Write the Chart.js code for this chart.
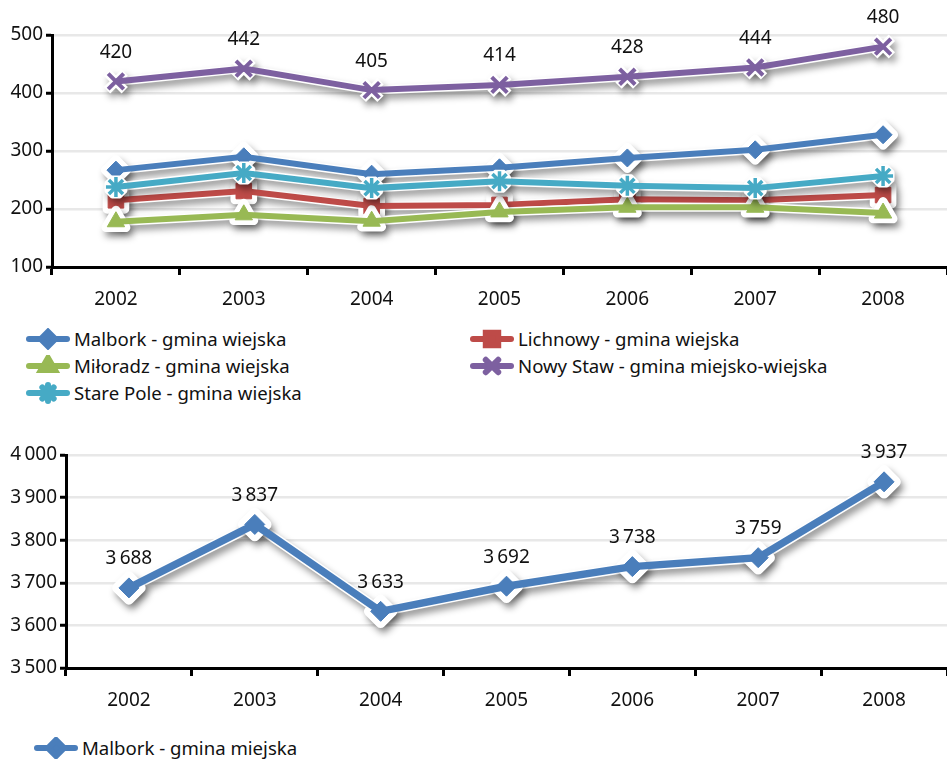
<!DOCTYPE html>
<html>
<head>
<meta charset="utf-8">
<script src="https://cdn.jsdelivr.net/npm/chart.js@4.4.1/dist/chart.umd.min.js"></script>
<style>
  body { margin: 0; background: #fff; font-family: 'Noto Sans', sans-serif; }
  #wrap { position: relative; width: 947px; height: 760px; overflow: hidden; }
  #wrap > canvas { position: absolute; left: 0; }
  .item { position: absolute; display: flex; align-items: center; white-space: nowrap;
          height: 27px; font-size: 18.6px; color: #111; }
  .item canvas { margin-right: 4px; }
</style>
</head>
<body>
<div id="wrap">
  <canvas id="top" width="947" height="315" style="top:0"></canvas>
  <div id="legendTop"></div>
  <canvas id="bottom" width="947" height="290" style="top:430px"></canvas>
  <div id="legendBottom"></div>
</div>
<script>
// categories
const years = ['2002', '2003', '2004', '2005', '2006', '2007', '2008'];

// top chart series
const malborkWiejska = [267, 290, 260, 271, 288, 302, 328];
const lichnowy       = [215, 231, 205, 207, 217, 215, 224];
const miloradz       = [178, 190, 179, 195, 203, 203, 193];
const nowyStaw       = [420, 442, 405, 414, 428, 444, 480];
const starePole      = [238, 262, 236, 248, 240, 236, 257];

// bottom chart series
const malborkMiejska = [3688, 3837, 3633, 3692, 3738, 3759, 3937];

// axis ranges
const topRange = [100, 500];
const bottomRange = [3500, 4000];

const FONT = "'Noto Sans', sans-serif";
const fmt = v => String(v).replace(/\B(?=(\d{3})+(?!\d))/g, '\u2009');

// white outline + drop shadow under each series, like the office chart style
const outlinePlugin = {
  id: 'outline',
  beforeDatasetDraw(chart, args) {
    const ds = chart.data.datasets[args.index];
    const pts = args.meta.data;
    const ctx = chart.ctx;
    ctx.save();
    ctx.shadowColor = 'rgba(0,0,0,0.4)';
    ctx.shadowBlur = 7;
    ctx.shadowOffsetX = 3;
    ctx.shadowOffsetY = 5;
    ctx.strokeStyle = '#fff';
    ctx.fillStyle = '#fff';
    ctx.lineJoin = 'round';
    ctx.lineWidth = ds.borderWidth + 3;
    ctx.beginPath();
    pts.forEach((p, i) => i ? ctx.lineTo(p.x, p.y) : ctx.moveTo(p.x, p.y));
    ctx.stroke();
    pts.forEach(p => {
      Chart.helpers.drawPoint(ctx, {
        pointStyle: ds.pointStyle,
        radius: ds.pointRadius + 1.5,
        borderWidth: (ds.pointBorderWidth || 1) + 3,
        rotation: 0
      }, p.x, p.y);
    });
    ctx.restore();
  }
};

// value labels above points
const labelPlugin = {
  id: 'valueLabels',
  afterDatasetsDraw(chart) {
    const ctx = chart.ctx;
    chart.data.datasets.forEach((ds, i) => {
      if (!ds.showLabels) return;
      const meta = chart.getDatasetMeta(i);
      ctx.save();
      ctx.font = '19px ' + FONT;
      ctx.fillStyle = '#111';
      ctx.textAlign = 'center';
      ctx.textBaseline = 'middle';
      meta.data.forEach((p, j) => ctx.fillText(fmt(ds.data[j]), p.x, p.y - 29));
      ctx.restore();
    });
  }
};

function series(label, data, color, style, radius, pbw, extra) {
  return Object.assign({
    label, data,
    borderColor: color,
    backgroundColor: color,
    borderWidth: 6,
    pointStyle: style,
    pointRadius: radius,
    pointHoverRadius: radius,
    pointBackgroundColor: color,
    pointBorderColor: color,
    pointBorderWidth: pbw,
    tension: 0
  }, extra || {});
}

function makeOptions(range, yWidth, xHeight, padTop) {
  return {
    responsive: false,
    animation: false,
    layout: { autoPadding: false, padding: { top: padTop, right: 0, left: 0, bottom: 0 } },
    plugins: { legend: { display: false }, tooltip: { enabled: false } },
    scales: {
      x: {
        offset: true,
        grid: { offset: true, drawOnChartArea: false, tickLength: 8, tickColor: '#000', tickWidth: 3 },
        border: { color: '#000', width: 3 },
        ticks: { color: '#111', font: { family: FONT, size: 19 }, padding: 13, maxRotation: 0 },
        afterFit(scale) {
          scale.height = xHeight;
          scale.paddingLeft = 0;
          scale.paddingRight = 0;
        }
      },
      y: {
        min: range[0], max: range[1],
        grid: { color: '#e8e8e8', lineWidth: 2.5, tickLength: 6, tickColor: '#000', tickWidth: 3 },
        border: { color: '#000', width: 3 },
        ticks: { stepSize: 100, color: '#111', font: { family: FONT, size: 19 }, padding: 3,
                 callback: v => fmt(v) },
        afterFit(scale) { scale.width = yWidth; }
      }
    }
  };
}

const BLUE = '#4a7ebb', RED = '#be4b48', GREEN = '#98b954', PURPLE = '#7d60a0', CYAN = '#46aac5';

const topSets = [
  series('Malbork - gmina wiejska', malborkWiejska, BLUE, 'rectRot', 9, 1, { order: 4 }),
  series('Lichnowy - gmina wiejska', lichnowy, RED, 'rect', 11, 1, { order: 3 }),
  series('Miłoradz - gmina wiejska', miloradz, GREEN, 'triangle', 10, 1, { order: 2 }),
  series('Nowy Staw - gmina miejsko-wiejska', nowyStaw, PURPLE, 'crossRot', 11, 4, { order: 1, showLabels: true }),
  series('Stare Pole - gmina wiejska', starePole, CYAN, 'star', 10, 3.5, { order: 0 })
];

new Chart(document.getElementById('top'), {
  type: 'line',
  data: { labels: years, datasets: topSets },
  options: makeOptions(topRange, 52, 48, 35),
  plugins: [outlinePlugin, labelPlugin]
});

const bottomSets = [
  series('Malbork - gmina miejska', malborkMiejska, BLUE, 'rectRot', 10, 1, { borderWidth: 7.5, showLabels: true })
];

new Chart(document.getElementById('bottom'), {
  type: 'line',
  data: { labels: years, datasets: bottomSets },
  options: makeOptions(bottomRange, 66, 52, 25),
  plugins: [outlinePlugin, labelPlugin]
});

// html legends with a small drawn marker
function legendItem(parent, ds, left, top) {
  const el = document.createElement('div');
  el.className = 'item';
  el.style.left = left + 'px';
  el.style.top = top + 'px';
  const c = document.createElement('canvas');
  c.width = 44; c.height = 22;
  const ctx = c.getContext('2d');
  ctx.strokeStyle = ds.borderColor;
  ctx.fillStyle = ds.borderColor;
  ctx.lineWidth = 6;
  ctx.lineCap = 'round';
  ctx.beginPath(); ctx.moveTo(3, 11); ctx.lineTo(41, 11); ctx.stroke();
  Chart.helpers.drawPoint(ctx, {
    pointStyle: ds.pointStyle, radius: ds.pointRadius * 0.8,
    borderWidth: ds.pointBorderWidth, rotation: 0
  }, 22, 11);
  el.appendChild(c);
  const t = document.createElement('span');
  t.textContent = ds.label;
  el.appendChild(t);
  parent.appendChild(el);
}

const lt = document.getElementById('legendTop');
legendItem(lt, topSets[0], 26, 325);
legendItem(lt, topSets[1], 470, 325);
legendItem(lt, topSets[2], 26, 352);
legendItem(lt, topSets[3], 470, 352);
legendItem(lt, topSets[4], 26, 379);
legendItem(document.getElementById('legendBottom'), bottomSets[0], 34, 734);
</script>
</body>
</html>
